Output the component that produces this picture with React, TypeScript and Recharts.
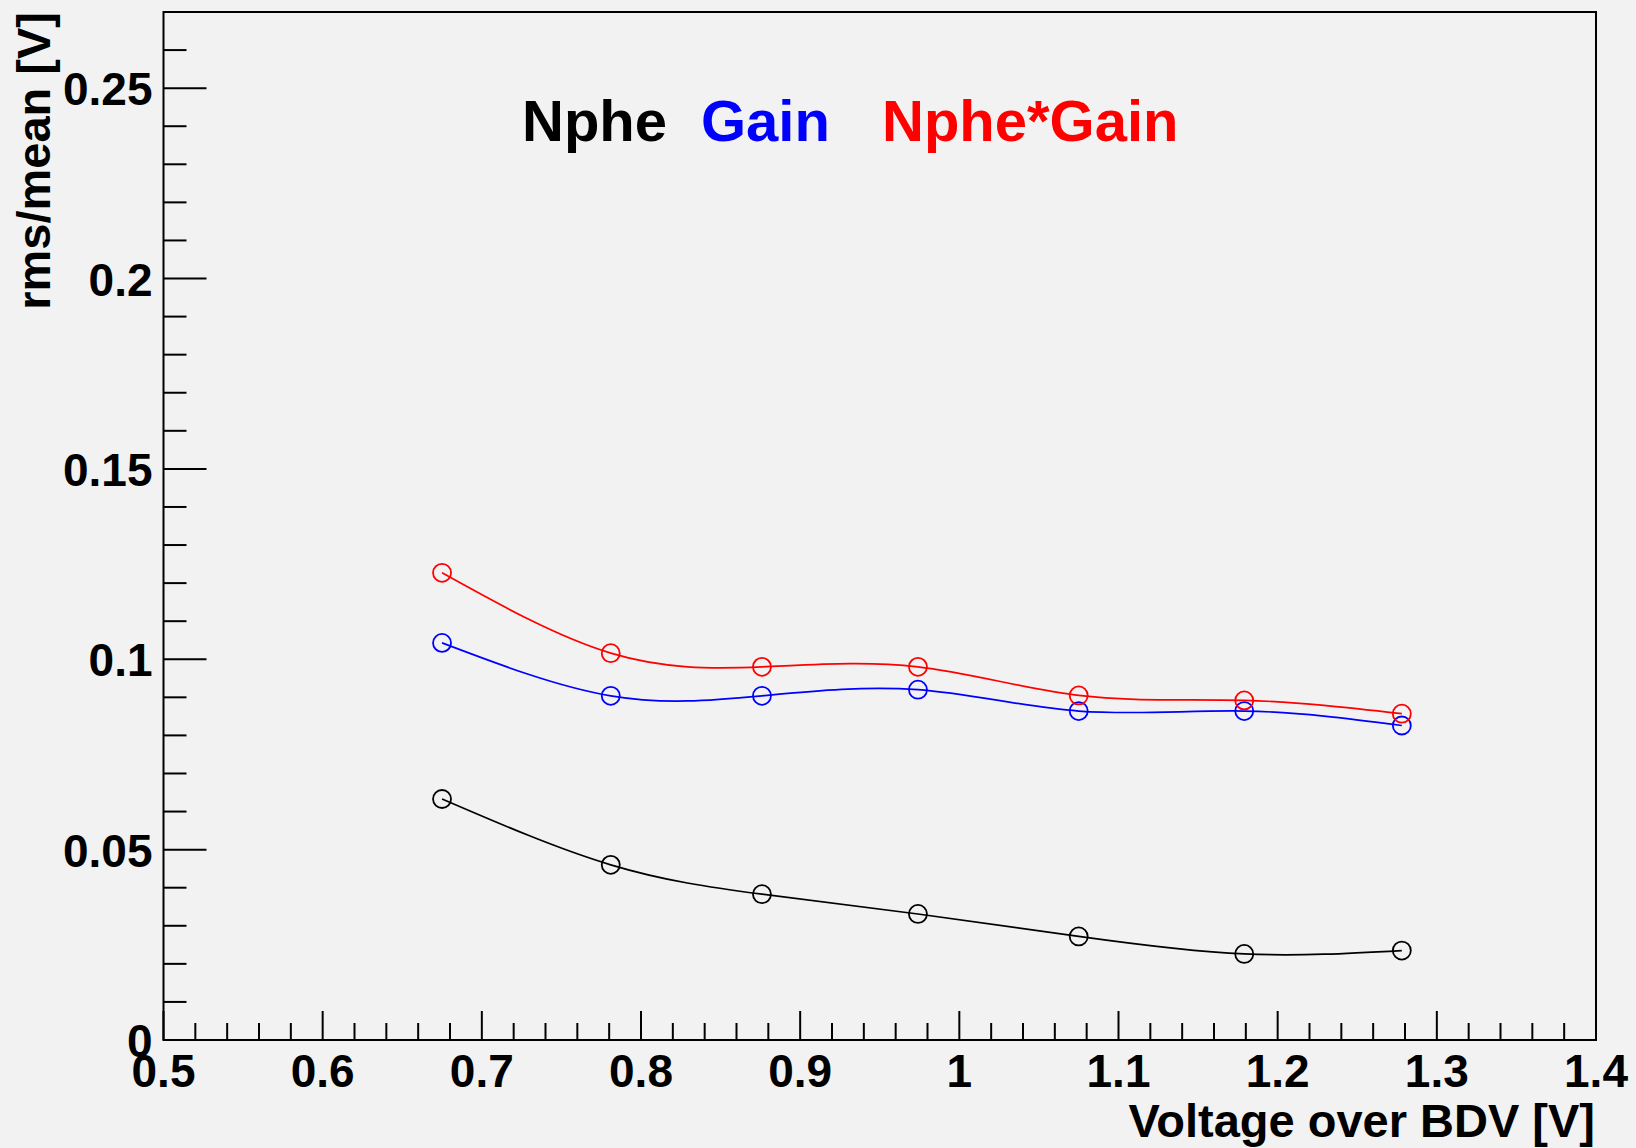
import { LineChart, Line, XAxis, YAxis, ReferenceArea } from "recharts";

const voltage = [0.675, 0.781, 0.876, 0.974, 1.075, 1.179, 1.278];
const npheRms = [0.0633, 0.046, 0.0383, 0.0331, 0.0272, 0.0226, 0.0235];
const gainRms = [0.1043, 0.0904, 0.0904, 0.092, 0.0864, 0.0864, 0.0826];
const npheGainRms = [0.1227, 0.1016, 0.098, 0.098, 0.0905, 0.0892, 0.0857];

const xMajorTicks = [0.5, 0.6, 0.7, 0.8, 0.9, 1, 1.1, 1.2, 1.3, 1.4];
const yMajorTicks = [0, 0.05, 0.1, 0.15, 0.2, 0.25];
const xMinorTicks = Array.from({ length: 46 }, (_, i) => Math.round((0.5 + i * 0.02) * 1000) / 1000);
const yMinorTicks = Array.from({ length: 28 }, (_, i) => Math.round(i) / 100);

const FONT = '"Liberation Sans", Arial, Helvetica, sans-serif';
const BG = "#f2f2f2";

const rows = voltage.map((v, i) => ({
  v,
  nphe: npheRms[i],
  gain: gainRms[i],
  product: npheGainRms[i],
}));

const isMajor = (list: number[], v: number) => list.some((t) => Math.abs(t - v) < 1e-6);

function XTick(props: any) {
  const { x, y, payload } = props;
  const major = isMajor(xMajorTicks, payload.value);
  return (
    <g>
      <line x1={x} x2={x} y1={y} y2={y - (major ? 29 : 17)} stroke="#000" strokeWidth={2} />
      {major ? (
        <text x={x} y={y + 47} textAnchor="middle" fontFamily={FONT} fontWeight="bold" fontSize={46} fill="#000">
          {String(payload.value)}
        </text>
      ) : null}
    </g>
  );
}

function YTick(props: any) {
  const { x, y, payload } = props;
  const major = isMajor(yMajorTicks, payload.value);
  return (
    <g>
      <line x1={x} x2={x + (major ? 43 : 23)} y1={y} y2={y} stroke="#000" strokeWidth={2} />
      {major ? (
        <text x={x - 11} y={y + 17} textAnchor="end" fontFamily={FONT} fontWeight="bold" fontSize={46} fill="#000">
          {String(payload.value)}
        </text>
      ) : null}
    </g>
  );
}

const series = [
  { key: "nphe", color: "#000000" },
  { key: "gain", color: "#0000ff" },
  { key: "product", color: "#ff0000" },
];

export default function App() {
  return (
    <div style={{ position: "absolute", left: 0, top: 0, width: 1636, height: 1148, background: BG }}>
      <LineChart width={1636} height={1148} data={rows} margin={{ top: 12, right: 40, bottom: 0, left: 0 }}>
        <XAxis
          dataKey="v"
          type="number"
          domain={[0.5, 1.4]}
          ticks={xMinorTicks}
          interval={0}
          height={108}
          tickSize={0}
          tickMargin={0}
          axisLine={false}
          tickLine={false}
          tick={XTick}
          allowDataOverflow
        />
        <YAxis
          type="number"
          domain={[0, 0.27]}
          ticks={yMinorTicks}
          interval={0}
          width={163.5}
          tickSize={0}
          tickMargin={0}
          axisLine={false}
          tickLine={false}
          tick={YTick}
          allowDataOverflow
        />
        <ReferenceArea x1={0.5} x2={1.4} y1={0} y2={0.27} fill="none" stroke="#000" strokeWidth={2} ifOverflow="visible" />
        {series.map((s) => (
          <Line
            key={s.key}
            type="natural"
            dataKey={s.key}
            stroke={s.color}
            strokeWidth={1.7}
            dot={{ r: 9, fill: "none", stroke: s.color, strokeWidth: 1.8 }}
            activeDot={false}
            isAnimationActive={false}
          />
        ))}
      </LineChart>
      <svg width={1636} height={1148} style={{ position: "absolute", left: 0, top: 0, pointerEvents: "none" }}>
        <g fontFamily={FONT} fontWeight="bold">
          <text x={-12} y={50} transform="rotate(-90)" textAnchor="end" fontSize={47} fill="#000">
            rms/mean [V]
          </text>
          <text x={1595} y={1137} textAnchor="end" fontSize={47} fill="#000">
            Voltage over BDV [V]
          </text>
          <text x={522} y={141} fontSize={58} fill="#000000">
            Nphe
          </text>
          <text x={701} y={141} fontSize={58} fill="#0000ff">
            Gain
          </text>
          <text x={882} y={141} fontSize={58} fill="#ff0000">
            Nphe*Gain
          </text>
        </g>
      </svg>
    </div>
  );
}
